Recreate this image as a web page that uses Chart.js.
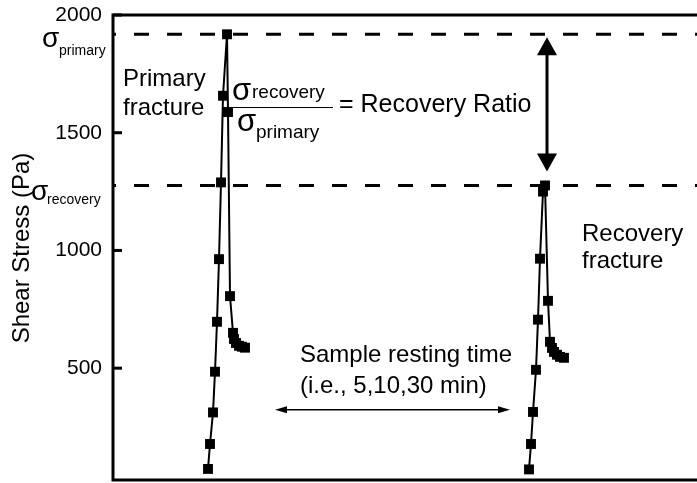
<!DOCTYPE html>
<html>
<head>
<meta charset="utf-8">
<script src="https://cdn.jsdelivr.net/npm/chart.js@4"></script>
<style>
  html, body { margin: 0; padding: 0; background: #fff; }
</style>
</head>
<body>
<canvas id="myChart" width="697" height="483"></canvas>
<script>
// time axis is unlabelled in the source, so it is kept in arbitrary units
const timePrimary = [95, 97, 100, 102, 104, 106, 108, 110, 114, 115, 117, 120, 121, 123, 126, 129, 132];
const stressPrimary = [72, 178, 312, 485, 697, 963, 1289, 1657, 1918, 1588, 806, 650, 624, 607, 595, 591, 587];

const timeRecovery = [416, 418, 420, 423, 425, 427, 430, 432, 435, 437, 439, 441, 444, 447, 451];
const stressRecovery = [70, 178, 314, 493, 706, 965, 1250, 1276, 786, 612, 586, 569, 557, 548, 544];

const yTicks = [500, 1000, 1500, 2000];

const sigmaPrimary = 1918;
const sigmaRecovery = 1276;
const restStart = 162;
const restEnd = 397;
const restLevel = 323;
const ratioArrowTime = 434;

const FONT = "'Liberation Sans', Arial, sans-serif";

const toPoints = (xs, ys) => xs.map((t, i) => ({ x: t, y: ys[i] }));

const lineStyle = {
  borderColor: "#000",
  backgroundColor: "#000",
  borderWidth: 2,
  pointStyle: "rect",
  pointRadius: 7,
  pointBorderWidth: 0,
  tension: 0,
};

const annotations = {
  id: "annotations",
  beforeDatasetsDraw(chart) {
    const { ctx, chartArea: a, scales: { y } } = chart;
    ctx.save();
    ctx.strokeStyle = "#000";
    ctx.fillStyle = "#000";

    // dashed sigma levels
    ctx.lineWidth = 3;
    ctx.setLineDash([15, 18]);
    ctx.lineDashOffset = 12;
    [sigmaPrimary, sigmaRecovery].forEach((v) => {
      const py = y.getPixelForValue(v);
      ctx.beginPath();
      ctx.moveTo(a.left, py);
      ctx.lineTo(a.right, py);
      ctx.stroke();
    });
    ctx.setLineDash([]);

    // frame (right side is outside the picture)
    ctx.lineWidth = 3;
    ctx.beginPath();
    ctx.moveTo(a.right, a.top);
    ctx.lineTo(a.left, a.top);
    ctx.lineTo(a.left, a.bottom);
    ctx.lineTo(a.right, a.bottom);
    ctx.stroke();

    // inward tick marks
    yTicks.forEach((v) => {
      const py = y.getPixelForValue(v);
      ctx.beginPath();
      ctx.moveTo(a.left, py);
      ctx.lineTo(a.left + 9, py);
      ctx.stroke();
    });
    ctx.restore();
  },
  afterDatasetsDraw(chart) {
    const { ctx, scales: { x, y } } = chart;
    ctx.save();
    ctx.strokeStyle = "#000";
    ctx.fillStyle = "#000";
    ctx.textBaseline = "alphabetic";
    ctx.textAlign = "left";

    // resting time arrow
    const ry = y.getPixelForValue(restLevel);
    const rx1 = x.getPixelForValue(restStart);
    const rx2 = x.getPixelForValue(restEnd);
    ctx.lineWidth = 1.5;
    ctx.beginPath();
    ctx.moveTo(rx1 + 6, ry);
    ctx.lineTo(rx2 - 6, ry);
    ctx.stroke();
    ctx.beginPath();
    ctx.moveTo(rx1, ry); ctx.lineTo(rx1 + 12, ry - 3.5); ctx.lineTo(rx1 + 12, ry + 3.5); ctx.closePath();
    ctx.moveTo(rx2, ry); ctx.lineTo(rx2 - 12, ry - 3.5); ctx.lineTo(rx2 - 12, ry + 3.5); ctx.closePath();
    ctx.fill();

    // recovery ratio double arrow
    const ax = x.getPixelForValue(ratioArrowTime);
    const top = y.getPixelForValue(sigmaPrimary) + 3;
    const bot = y.getPixelForValue(sigmaRecovery) - 14;
    ctx.lineWidth = 3;
    ctx.beginPath();
    ctx.moveTo(ax, top + 10);
    ctx.lineTo(ax, bot - 10);
    ctx.stroke();
    ctx.beginPath();
    ctx.moveTo(ax, top); ctx.lineTo(ax - 10, top + 18); ctx.lineTo(ax + 10, top + 18); ctx.closePath();
    ctx.moveTo(ax, bot); ctx.lineTo(ax - 10, bot - 18); ctx.lineTo(ax + 10, bot - 18); ctx.closePath();
    ctx.fill();

    // axis title
    ctx.save();
    ctx.translate(29, 248);
    ctx.rotate(-Math.PI / 2);
    ctx.textAlign = "center";
    ctx.font = "24px " + FONT;
    ctx.fillText("Shear Stress (Pa)", 0, 0);
    ctx.restore();

    // sigma labels at the left
    ctx.font = "28px " + FONT;
    ctx.fillText("σ", 42, 47);
    ctx.fillText("σ", 31, 200);
    ctx.font = "14px " + FONT;
    ctx.fillText("primary", 59, 55);
    ctx.fillText("recovery", 47, 204);

    // notes
    ctx.font = "24px " + FONT;
    ctx.fillText("Primary", 123, 86);
    ctx.fillText("fracture", 123, 115);
    ctx.fillText("Recovery", 582, 241);
    ctx.fillText("fracture", 582, 268);
    ctx.fillText("Sample resting time", 300, 362);
    ctx.fillText("(i.e., 5,10,30 min)", 300, 393);

    // ratio formula
    ctx.font = "31px " + FONT;
    ctx.fillText("σ", 232, 100);
    ctx.fillText("σ", 237, 131);
    ctx.font = "19px " + FONT;
    ctx.fillText("recovery", 252, 98);
    ctx.fillText("primary", 256, 138);
    ctx.lineWidth = 1;
    ctx.beginPath();
    ctx.moveTo(232, 107.5);
    ctx.lineTo(333, 107.5);
    ctx.stroke();
    ctx.font = "25px " + FONT;
    ctx.fillText("= Recovery Ratio", 339, 112);

    ctx.restore();
  },
};

new Chart(document.getElementById("myChart"), {
  type: "line",
  data: {
    datasets: [
      { data: toPoints(timePrimary, stressPrimary), ...lineStyle },
      { data: toPoints(timeRecovery, stressRecovery), ...lineStyle },
    ],
  },
  options: {
    responsive: false,
    animation: false,
    devicePixelRatio: 1,
    layout: { autoPadding: false, padding: { top: 15, bottom: 3, left: 0, right: 0 } },
    plugins: {
      legend: { display: false },
      tooltip: { enabled: false },
    },
    scales: {
      x: { type: "linear", display: false, min: 0, max: 584 },
      y: {
        min: 25,
        max: 2000,
        grid: { display: false, drawTicks: false },
        border: { display: false },
        afterBuildTicks: (s) => {
          s.ticks = yTicks.map((v) => ({ value: v }));
        },
        afterFit: (s) => {
          s.width = 113;
          s.paddingTop = 0;
          s.paddingBottom = 0;
        },
        ticks: {
          color: "#000",
          padding: 11,
          font: { family: FONT, size: 21 },
          callback: (v) => String(v),
        },
      },
    },
  },
  plugins: [annotations],
});
</script>
</body>
</html>
